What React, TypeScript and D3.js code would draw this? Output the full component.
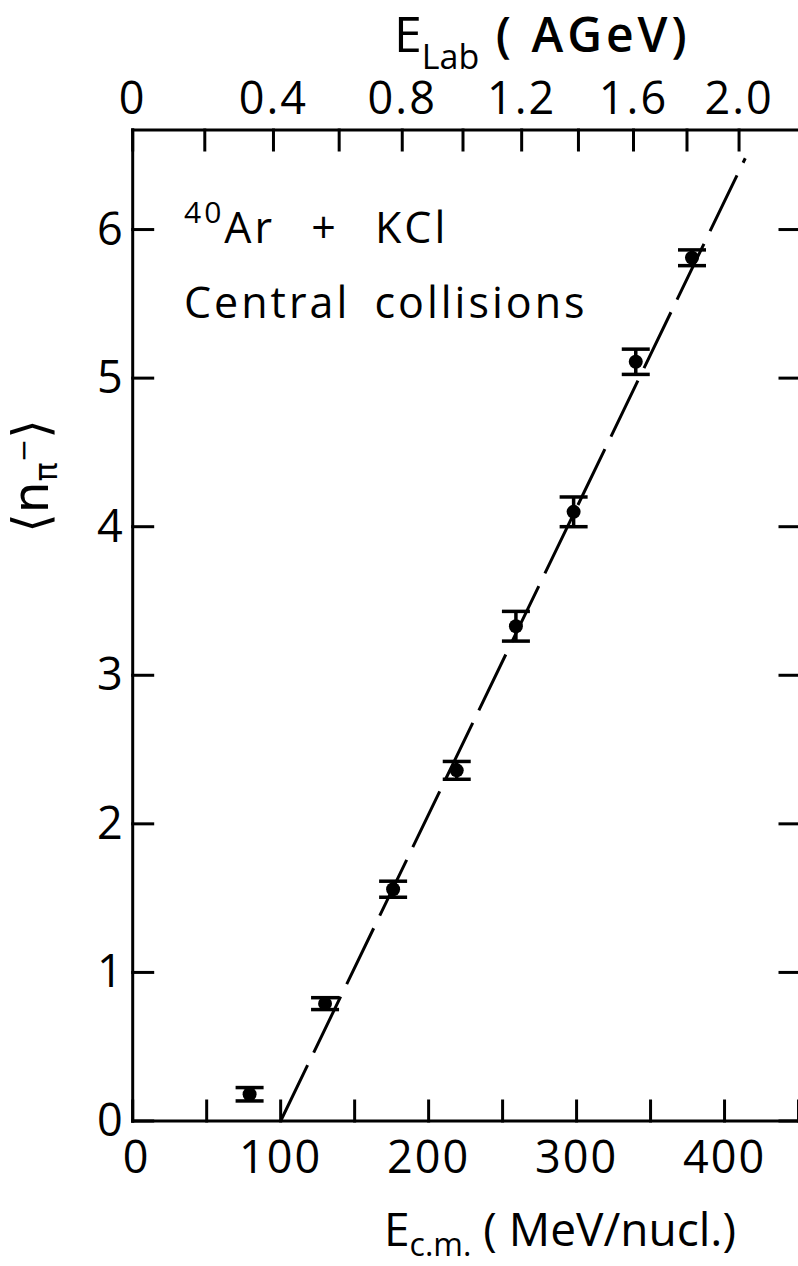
import { useEffect } from "react";
import * as d3 from "d3";

// E_cm (MeV/nucl.) and <n_pi-> with errors
const ecm = [79, 130, 176, 219, 259, 298, 340, 378];
const nPi = [0.18, 0.79, 1.56, 2.36, 3.33, 4.1, 5.11, 5.81];
const nErr = [0.045, 0.04, 0.054, 0.06, 0.1, 0.1, 0.085, 0.053];

// dashed linear fit
const fitE = [100, 414];
const fitN = [0, 6.48];

const bottomTicks = [0, 50, 100, 150, 200, 250, 300, 350, 400, 450];
const bottomLabels = [0, 100, 200, 300, 400];
const leftTicks = [0, 1, 2, 3, 4, 5, 6];
const labTicks = [0, 0.2, 0.4, 0.6, 0.8, 1.0, 1.2, 1.4, 1.6, 1.8, 2.0];
const labLabels = ["0", "0.4", "0.8", "1.2", "1.6", "2.0"];

// lab energy per nucleon (GeV) -> c.m. kinetic energy per nucleon (MeV)
const M = 0.931;
const labToCm = (e: number) => ((Math.sqrt(2 * M * (e + 2 * M)) - 2 * M) / 2) * 1000;

const W = 798;
const H = 1266;
const FONT = "'Open Sans', 'DejaVu Sans', sans-serif";

const App = () => {
  useEffect(() => {
    document.body.style.margin = "0";
  }, []);

  const x = d3.scaleLinear().domain([0, 451]).range([132.7, 800]);
  const y = d3.scaleLinear().domain([0, 6.67]).range([1121, 130]);
  const left = x(0);
  const right = x(451);
  const bottom = y(0);
  const top = y(6.67);
  const tick = 20;

  const line = d3
    .line<number>()
    .x((_, i) => x(fitE[i]))
    .y((d) => y(d));

  return (
    <svg width={W} height={H} style={{ display: "block", background: "#fff" }} fontFamily={FONT}>
      <g stroke="#000" strokeWidth={3} fill="none" strokeLinecap="square">
        {/* frame */}
        <line x1={left} y1={bottom} x2={right} y2={bottom} />
        <line x1={left} y1={top} x2={right} y2={top} />
        <line x1={left} y1={bottom} x2={left} y2={top} />
        <line x1={right} y1={bottom} x2={right} y2={top} />
        {bottomTicks.map((t) => (
          <line key={"b" + t} x1={x(t)} x2={x(t)} y1={bottom} y2={bottom - tick} />
        ))}
        {leftTicks.map((t) => (
          <g key={"l" + t}>
            <line x1={left} x2={left + tick} y1={y(t)} y2={y(t)} />
            <line x1={right} x2={right - tick} y1={y(t)} y2={y(t)} />
          </g>
        ))}
        {labTicks.map((t) => (
          <line key={"t" + t} x1={x(labToCm(t))} x2={x(labToCm(t))} y1={top} y2={top + tick} />
        ))}
      </g>

      {/* fit line */}
      <path d={line(fitN) || ""} stroke="#000" strokeWidth={3} fill="none" strokeDasharray="62 14" />

      {/* data with error bars */}
      <g stroke="#000" strokeWidth={3.5}>
        {ecm.map((e, i) => (
          <g key={"p" + i}>
            <line x1={x(e)} x2={x(e)} y1={y(nPi[i] - nErr[i])} y2={y(nPi[i] + nErr[i])} />
            <line x1={x(e) - 14} x2={x(e) + 14} y1={y(nPi[i] - nErr[i])} y2={y(nPi[i] - nErr[i])} />
            <line x1={x(e) - 14} x2={x(e) + 14} y1={y(nPi[i] + nErr[i])} y2={y(nPi[i] + nErr[i])} />
            <circle cx={x(e)} cy={y(nPi[i])} r={Math.min(7, y(nPi[i] - nErr[i]) - y(nPi[i]) + 1)} fill="#000" stroke="none" />
          </g>
        ))}
      </g>

      {/* tick labels */}
      <g fontSize={45} fill="#000" fontWeight={400} letterSpacing={2}>
        {bottomLabels.map((t) => (
          <text key={"bl" + t} x={x(t) + (t === 0 ? 4 : 0)} y={bottom + 52} textAnchor="middle">
            {t}
          </text>
        ))}
        {leftTicks.map((t) => (
          <text key={"ll" + t} x={left - 8} y={y(t) + 15} textAnchor="end">
            {t}
          </text>
        ))}
        {labTicks
          .filter((_, i) => i % 2 === 0)
          .map((t, i) => (
            <text key={"tl" + t} x={x(labToCm(t))} y={top - 16} textAnchor="middle">
              {labLabels[i]}
            </text>
          ))}
      </g>

      {/* axis titles */}
      <text x={394} y={52} fontSize={50} fontWeight={400}>
        E
        <tspan fontSize={34} dy={17}>Lab</tspan>
        <tspan fontSize={48} dy={-17} fontWeight={600} letterSpacing={4}>{" ( AGeV)"}</tspan>
      </text>
      <text x={384} y={1246} fontSize={46} fontWeight={400}>
        E
        <tspan fontSize={32} dy={10}>c.m.</tspan>
        <tspan fontSize={46} dy={-10}>{" ( MeV/nucl.)"}</tspan>
      </text>
      <text transform="translate(48,476) rotate(-90)" textAnchor="middle" fontSize={50}
        fontFamily="'DejaVu Sans', sans-serif">
        ⟨n
        <tspan fontSize={32} dy={9}>π</tspan>
        <tspan fontSize={28} dy={-24}>−</tspan>
        <tspan fontSize={50} dy={15}>⟩</tspan>
      </text>

      {/* annotation */}
      <text x={184} y={243} fontSize={43} fontWeight={400} letterSpacing={3} wordSpacing={22}>
        <tspan fontSize={30} dy={-20}>40</tspan>
        <tspan dy={20}>Ar + KCl</tspan>
      </text>
      <text x={184} y={318} fontSize={43} fontWeight={400} letterSpacing={3} wordSpacing={10}>
        Central collisions
      </text>
    </svg>
  );
};

export default App;
